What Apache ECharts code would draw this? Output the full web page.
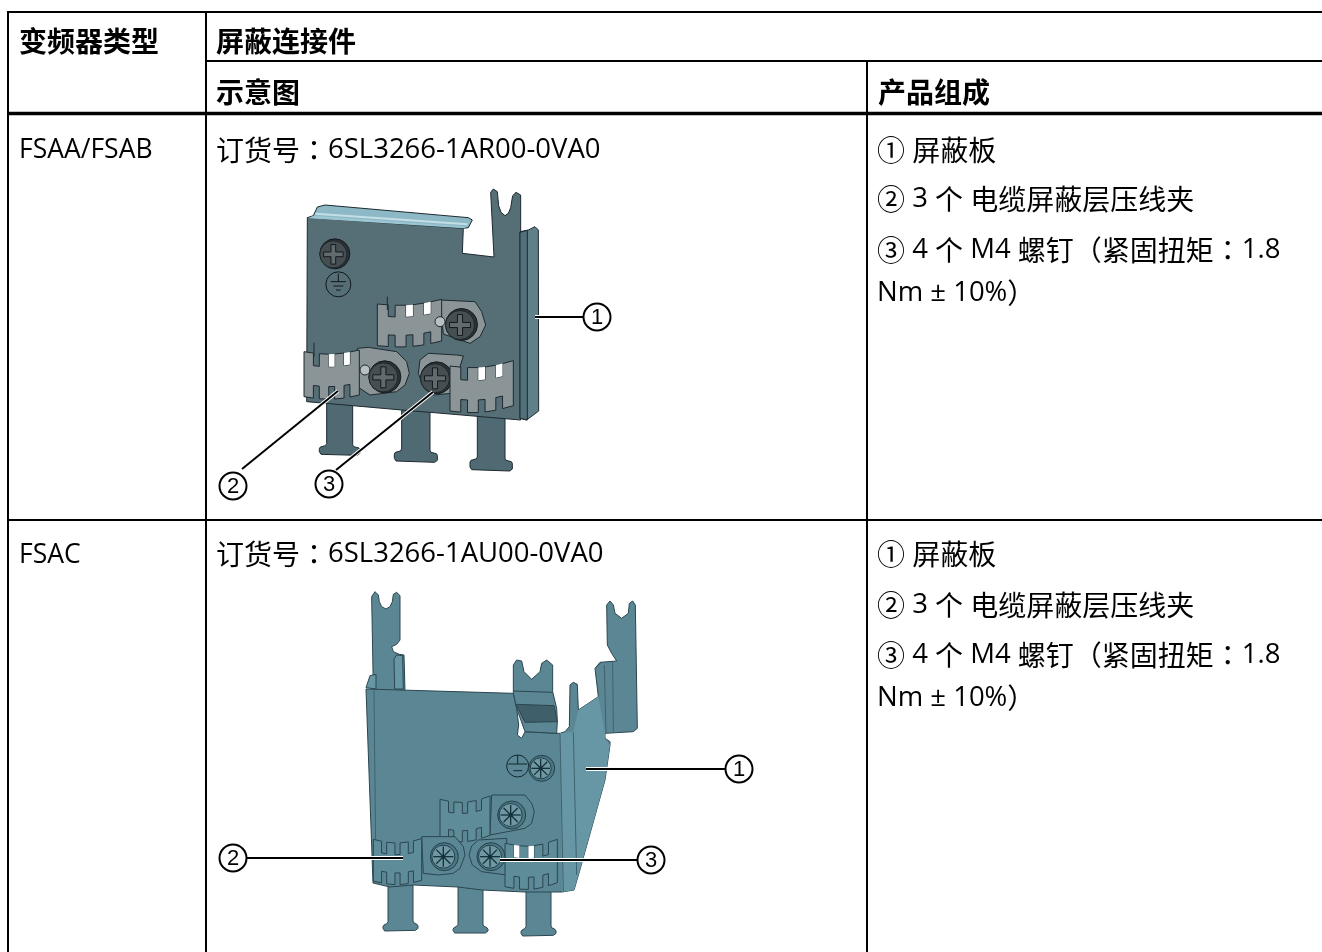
<!DOCTYPE html>
<html>
<head>
<meta charset="utf-8">
<style>
  html, body { margin: 0; padding: 0; background: #fff; }
  #chart { width: 1322px; height: 952px; }
</style>
<script src="https://cdn.jsdelivr.net/npm/echarts@6/dist/echarts.min.js"></script>
</head>
<body>
<div id="chart"></div>
<script>
// table texts
const headTexts = ['变频器类型', '屏蔽连接件', '示意图', '产品组成']
const driveTypes = ['FSAA/FSAB', 'FSAC']
const orderNumbers = ['订货号：6SL3266-1AR00-0VA0', '订货号：6SL3266-1AU00-0VA0']
const partLines = ['① 屏蔽板', '② 3 个 电缆屏蔽层压线夹', '③ 4 个 M4 螺钉（紧固扭矩：1.8', 'Nm ± 10%）']
const calloutDigits = ['1', '2', '3']

const els = []

// 中文、拉丁字符分段设置字号，全角冒号用 TC 字形才居中
function text(x, y, str, latinSize, bold) {
  const weight = bold ? 'bold' : 'normal'
  const runs = str.match(/[\x20-\x7E±]+|：|[^\x20-\x7E±：]+/g)
  const shown = runs.map((r) => {
    if (r === '：') return '{c|：}'
    return (/^[\x20-\x7E±]/.test(r) ? '{l|' : '{n|') + r + '}'
  }).join('')
  els.push({
    type: 'text', x: x, y: y, z: 10,
    style: {
      text: shown, verticalAlign: 'middle', fill: '#000',
      rich: {
        n: { fontFamily: '"Noto Sans CJK SC"', fontSize: 28, fontWeight: weight, fill: '#000' },
        l: { fontFamily: '"Open Sans"', fontSize: latinSize, fontWeight: weight, fill: '#000' },
        c: { fontFamily: '"Noto Sans CJK TC"', fontSize: 28, fill: '#000' }
      }
    }
  })
}
function rule(x1, y1, x2, y2, w) {
  els.push({ type: 'line', z: 9, shape: { x1: x1, y1: y1, x2: x2, y2: y2 }, style: { stroke: '#000', lineWidth: w } })
}

// ---------- 示意图用的绘制函数，m 把放大图坐标换算成页面坐标 ----------
function poly(m, pts, fill, stroke, w) {
  els.push({
    type: 'polygon', shape: { points: pts.map(m) },
    style: { fill: fill, stroke: stroke || 'none', lineWidth: w || 1, lineJoin: 'round' }
  })
}
function seg(m, a, b, color, w) {
  const p = m(a), q = m(b)
  els.push({ type: 'line', shape: { x1: p[0], y1: p[1], x2: q[0], y2: q[1] }, style: { stroke: color, lineWidth: w || 1 } })
}
function dot(m, c, r, fill, stroke, w) {
  const p = m(c)
  els.push({ type: 'circle', shape: { cx: p[0], cy: p[1], r: r }, style: { fill: fill, stroke: stroke || 'none', lineWidth: w || 1 } })
}
// 带圆角的脚
function foot(m, xl, xr, yTop, yNeck, yBot, flare, fill, edge, slope) {
  const s = slope || 0
  poly(m, [
    [xl, yTop], [xl, yNeck], [xl - 4, yNeck + 6], [xl - flare + 3, yNeck + 10], [xl - flare, yNeck + 15],
    [xl - flare, yBot - 8], [xl - flare + 5, yBot], [xr + flare - 8, yBot + s], [xr + flare, yBot + s - 6],
    [xr + flare, yNeck + 15 + s], [xr + flare - 3, yNeck + 10 + s], [xr + 3, yNeck + 6 + s], [xr, yNeck + s], [xr, yTop + s]
  ], fill, edge)
}
// 压线夹：梳齿外形，齿比槽宽，sag 是中间下凹量，gaps 里的上槽露白
function comb(m, x0, y0, x1, y1, h, sag, n, fill, edge, gaps) {
  const unit = 1 / (n + (n + 1) * 1.6)
  const at = (t) => [x0 + (x1 - x0) * t, y0 + (y1 - y0) * t + sag * Math.sin(Math.PI * t)]
  const depth = h * 0.28
  const top = [], bottom = []
  let t = 0
  const slots = []
  for (let i = 0; i < n * 2 + 1; i++) {
    const w = (i % 2 ? 1 : 1.6) * unit
    const d = i % 2 ? depth : 0
    const a = at(t), b = at(t + w)
    top.push([a[0], a[1] + d], [b[0], b[1] + d])
    bottom.push([a[0], a[1] + h - d], [b[0], b[1] + h - d])
    if (i % 2) slots.push([a, b])
    t += w
  }
  poly(m, top.concat(bottom.reverse()), fill, edge, 1)
  ;(gaps || []).forEach((g) => {
    const a = slots[g][0], b = slots[g][1]
    poly(m, [[a[0], a[1]], [b[0], b[1]], [b[0], b[1] + depth], [a[0], a[1] + depth]], '#fff')
  })
}
function cross(m, c, r, fill) {
  const s = m(c)
  const a = r * 0.7, b = r * 0.17
  els.push({
    type: 'polygon',
    shape: { points: [
      [s[0] - a, s[1] - b], [s[0] - b, s[1] - b], [s[0] - b, s[1] - a], [s[0] + b, s[1] - a], [s[0] + b, s[1] - b], [s[0] + a, s[1] - b],
      [s[0] + a, s[1] + b], [s[0] + b, s[1] + b], [s[0] + b, s[1] + a], [s[0] - b, s[1] + a], [s[0] - b, s[1] + b], [s[0] - a, s[1] + b]
    ] },
    style: { fill: fill, stroke: '#15191b', lineWidth: 1 }
  })
}
function screwDark(m, c, r) {
  const p = m(c)
  els.push({ type: 'circle', shape: { cx: p[0] + 1.5, cy: p[1] - 0.5, r: r + 1 }, style: { fill: '#2a3235', stroke: '#14191b', lineWidth: 1 } })
  els.push({ type: 'circle', shape: { cx: p[0], cy: p[1], r: r - 0.5 }, style: { fill: '#454e52', stroke: '#20272a', lineWidth: 1 } })
  cross(m, c, r, '#616b6f')
}
function screwStar(m, c, r) {
  const p = m(c)
  const edge = '#21404a'
  els.push({ type: 'circle', shape: { cx: p[0] + 1, cy: p[1], r: r }, style: { fill: '#4d7683', stroke: edge, lineWidth: 1 } })
  els.push({ type: 'circle', shape: { cx: p[0], cy: p[1], r: r - 2.5 }, style: { fill: '#6f98a4', stroke: edge, lineWidth: 1 } })
  const spokes = [[1, 0], [0.7, 0.7], [0, 1], [-0.7, 0.7]]
  spokes.forEach((d) => {
    const a = r * 0.72
    els.push({
      type: 'line',
      shape: { x1: p[0] - d[0] * a, y1: p[1] - d[1] * a, x2: p[0] + d[0] * a, y2: p[1] + d[1] * a },
      style: { stroke: '#14303a', lineWidth: 1.3 }
    })
  })
  els.push({ type: 'circle', shape: { cx: p[0], cy: p[1], r: 2 }, style: { fill: '#14303a' } })
}
function callout(cx, cy, digit) {
  els.push({ type: 'circle', z: 7, shape: { cx: cx, cy: cy, r: 13.5 }, style: { fill: '#fff', stroke: '#000', lineWidth: 2 } })
  els.push({
    type: 'text', x: cx, y: cy + 1, z: 8,
    style: { text: digit, fontFamily: '"Liberation Sans"', fontSize: 22, fill: '#000', align: 'center', verticalAlign: 'middle' }
  })
}
function leader(x1, y1, x2, y2) {
  els.push({ type: 'line', z: 6, shape: { x1: x1, y1: y1, x2: x2, y2: y2 }, style: { stroke: '#fff', lineWidth: 4 } })
  els.push({ type: 'line', z: 6, shape: { x1: x1, y1: y1, x2: x2, y2: y2 }, style: { stroke: '#000', lineWidth: 2 } })
}

// ---------- 上面的屏蔽板 FSAA/FSAB ----------
function drawPlateSmall() {
  const m = (p) => [210 + p[0] / 3, 175 + p[1] / 3]
  const edge = '#1d2a30', plate = '#566e76', leg = '#4f6a73'
  // 三个脚
  foot(m, 350, 428, 680, 806, 838, 22, leg, edge, 3)
  foot(m, 575, 660, 700, 822, 858, 22, leg, edge, 4)
  foot(m, 802, 885, 715, 846, 884, 22, leg, edge, 4)
  // 主板
  poly(m, [[292, 128], [760, 158], [757, 235], [852, 246], [842, 52], [850, 42], [862, 50], [866, 92], [873, 112], [885, 122], [895, 115], [902, 98], [908, 62], [918, 52], [932, 60], [932, 735], [660, 712], [575, 705], [428, 692], [290, 680]], plate, edge)
  // 右侧折边
  poly(m, [[930, 170], [955, 165], [975, 155], [985, 165], [986, 708], [950, 735], [930, 730]], '#5f7f89', edge)
  poly(m, [[930, 172], [952, 166], [952, 735], [930, 730]], '#51707a', edge)
  // 顶部折边
  poly(m, [[292, 128], [310, 122], [322, 96], [345, 90], [775, 128], [787, 135], [775, 158], [760, 160]], '#8db9c6', edge)
  seg(m, [316, 116], [772, 148], '#c4dee6', 2)
  poly(m, [[312, 122], [770, 155], [762, 160], [292, 130]], '#9cc6d2', 'none')
  // 接地螺钉和符号
  screwDark(m, [370, 238], 14)
  dot(m, [385, 328], 12.5, 'none', '#10181b', 1)
  seg(m, [385, 296], [385, 320], '#10181b', 1)
  seg(m, [362, 320], [408, 320], '#10181b', 1)
  seg(m, [370, 333], [400, 333], '#10181b', 1)
  seg(m, [378, 345], [392, 345], '#10181b', 1)

  // 压线夹，用局部放大图的坐标
  const c = (p) => [300 + p[0] / 3, 290 + p[1] / 3]
  const metal = '#8b9597'
  poly(c, [[420, 30], [525, 35], [545, 65], [557, 105], [540, 140], [510, 160], [430, 132]], metal, edge)
  comb(c, 232, 42, 425, 28, 125, 10, 3, metal, edge, [1, 2])
  seg(c, [262, 20], [262, 60], edge, 1)
  dot(c, [420, 95], 5, '#b9c0c2', edge, 1)
  screwDark(c, [480, 105], 15)

  poly(c, [[172, 175], [205, 172], [290, 185], [320, 215], [328, 250], [315, 285], [290, 305], [210, 315], [172, 290]], metal, edge)
  comb(c, 12, 185, 178, 180, 135, 10, 3, metal, edge, [1, 2])
  seg(c, [42, 158], [42, 200], edge, 1)
  dot(c, [195, 240], 5, '#b9c0c2', edge, 1)
  screwDark(c, [250, 262], 15)

  poly(c, [[385, 190], [470, 195], [490, 198], [455, 310], [400, 315], [370, 290], [355, 250], [360, 210]], metal, edge)
  screwDark(c, [405, 265], 15)
  comb(c, 450, 228, 640, 212, 135, 12, 3, metal, edge, [1, 2])
}

// ---------- 下面的屏蔽板 FSAC ----------
function drawPlateLarge() {
  const m = (p) => [360 + p[0] / 3, 585 + p[1] / 3]
  const edge = '#2b4650', teal = '#5b8794', lite = '#6797a5', dark = '#3f626d'
  // 脚
  foot(m, 84, 159, 880, 1010, 1038, 15, teal, edge, -2)
  foot(m, 294, 369, 890, 1018, 1044, 15, teal, edge, 0)
  foot(m, 498, 573, 900, 1025, 1053, 15, teal, edge, -2)
  // 左边的高片
  poly(m, [[35, 35], [45, 20], [55, 30], [58, 50], [65, 65], [78, 72], [90, 65], [97, 50], [100, 28], [110, 22], [120, 32], [120, 165], [110, 178], [95, 185], [100, 200], [118, 208], [132, 210], [135, 318], [40, 315]], teal, edge)
  seg(m, [108, 225], [104, 312], dark, 1)
  poly(m, [[102, 222], [110, 210], [128, 212], [130, 312], [104, 312]], lite, edge)
  poly(m, [[18, 308], [30, 272], [48, 268], [48, 312]], lite, edge)
  // 主板和右侧翼
  poly(m, [[18, 312], [460, 325], [470, 370], [476, 420], [472, 450], [485, 460], [495, 440], [590, 445], [600, 445], [615, 440], [628, 425], [630, 300], [640, 292], [652, 298], [655, 375], [715, 335], [705, 250], [720, 232], [770, 228], [755, 205], [742, 180], [740, 60], [750, 48], [760, 60], [765, 85], [785, 100], [805, 85], [808, 55], [818, 48], [826, 60], [832, 430], [820, 440], [735, 445], [735, 460], [750, 470], [750, 480], [735, 585], [657, 864], [642, 915], [606, 921], [570, 921], [495, 921], [366, 915], [294, 906], [159, 900], [90, 906], [39, 894]], teal, edge)
  poly(m, [[600, 445], [640, 440], [655, 375], [715, 335], [735, 445], [735, 460], [750, 480], [735, 585], [657, 864], [642, 915], [606, 921]], lite, 'none')
  seg(m, [42, 316], [48, 892], dark, 1)
  seg(m, [600, 447], [610, 920], dark, 1)
  seg(m, [640, 442], [650, 870], dark, 1)
  seg(m, [733, 240], [738, 442], dark, 1)
  seg(m, [758, 232], [760, 440], dark, 1)
  seg(m, [705, 250], [722, 235], dark, 1)
  // 中间折片
  poly(m, [[460, 240], [470, 225], [485, 228], [492, 260], [515, 283], [540, 260], [545, 235], [560, 225], [578, 240], [578, 320], [590, 370], [592, 410], [590, 445], [495, 440], [470, 370], [460, 325]], teal, edge)
  poly(m, [[468, 358], [582, 362], [592, 410], [495, 412]], '#3f5f6b', edge)
  seg(m, [460, 318], [578, 322], edge, 1)

  const c = (p) => [365 + p[0] / 3, 740 + p[1] / 3]
  // 接地符号与螺钉
  dot(c, [458, 78], 11, 'none', '#14262d', 1)
  seg(c, [458, 45], [458, 72], '#14262d', 1)
  seg(c, [430, 72], [486, 72], '#14262d', 1)
  seg(c, [445, 92], [472, 92], '#14262d', 1)
  screwStar(c, [527, 85], 13)
  // 压线夹
  const clip = '#5f8c99'
  poly(c, [[380, 165], [480, 165], [500, 190], [508, 215], [500, 250], [480, 265], [375, 285]], teal, edge)
  comb(c, 225, 178, 375, 168, 118, 14, 3, clip, edge)
  screwStar(c, [437, 225], 14)
  poly(c, [[170, 290], [270, 290], [295, 320], [300, 345], [285, 385], [265, 400], [220, 405], [175, 400]], teal, edge)
  comb(c, 25, 298, 170, 296, 125, 12, 3, clip, edge)
  screwStar(c, [235, 350], 14)
  poly(c, [[340, 300], [425, 295], [425, 405], [350, 395], [322, 375], [312, 345], [320, 318]], teal, edge)
  comb(c, 420, 310, 577, 298, 130, 14, 3, clip, edge, [0, 1])
  screwStar(c, [375, 350], 14)
}

// ---------- 表格线 ----------
rule(7, 12, 1322, 12, 2)
rule(8, 11, 8, 952, 2)
rule(206, 11, 206, 952, 2)
rule(867, 61, 867, 952, 2)
rule(206, 61, 1322, 61, 2)
rule(7, 113.5, 1322, 113.5, 3.5)
rule(7, 520, 1322, 520, 2)

// ---------- 表格文字 ----------
text(19, 41, headTexts[0], 27, true)
text(216, 41, headTexts[1], 27, true)
text(216, 92, headTexts[2], 27, true)
text(878, 92, headTexts[3], 27, true)
text(19, 150, driveTypes[0], 26.5)
text(19, 555, driveTypes[1], 26.5)
text(216, 150, orderNumbers[0], 27.5)
text(216, 554, orderNumbers[1], 27.5)
const partRowsTop = [150, 199, 250, 293]
const partRowsBottom = [554, 605, 655, 698]
partLines.forEach((line, i) => {
  text(877, partRowsTop[i], line, 27.5)
  text(877, partRowsBottom[i], line, 27.5)
})

// ---------- 示意图 ----------
drawPlateSmall()
drawPlateLarge()
leader(535, 317, 583, 317)
leader(338, 391, 242, 469)
leader(433, 392, 336, 470)
callout(597, 317, calloutDigits[0])
callout(233, 486, calloutDigits[1])
callout(329, 484, calloutDigits[2])
leader(586, 769, 725, 769)
leader(247, 858, 403, 858)
leader(500, 860, 637, 860)
callout(739, 769, calloutDigits[0])
callout(233, 858, calloutDigits[1])
callout(651, 860, calloutDigits[2])

const chart = echarts.init(document.getElementById('chart'))
chart.setOption({ animation: false, backgroundColor: '#fff', graphic: { elements: els } })
</script>
</body>
</html>
